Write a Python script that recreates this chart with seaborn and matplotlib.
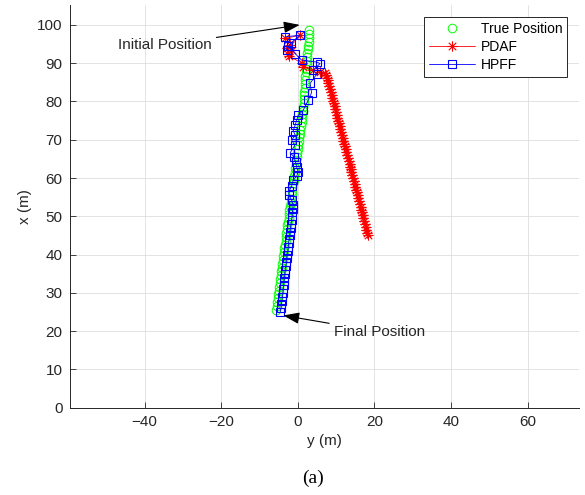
import matplotlib
matplotlib.use("Agg")
import matplotlib.pyplot as plt
from matplotlib.path import Path
from matplotlib.lines import Line2D
import seaborn as sns

# ---------------- data (horizontal = y (m), vertical = x (m)) ----------------
true_y = [3.0, 2.9, 2.8, 2.8, 2.7, 2.6, 2.5, 2.4, 2.4, 2.3, 2.2, 2.1, 2.0, 2.0,
          1.9, 1.8, 1.7, 1.6, 1.6, 1.5, 1.4, 1.3, 1.2, 1.1, 1.0, 0.8, 0.7, 0.6,
          0.4, 0.3, 0.1, 0.0, -0.1, -0.3, -0.4, -0.5, -0.7, -0.8, -0.9, -1.1,
          -1.2, -1.4, -1.5, -1.6, -1.8, -1.9, -2.0, -2.2, -2.3, -2.4, -2.6,
          -2.7, -2.8, -3.0, -3.1, -3.2, -3.4, -3.5, -3.6, -3.8, -3.9, -4.0,
          -4.2, -4.3, -4.5, -4.6, -4.7, -4.9, -5.0, -5.1, -5.3, -5.4, -5.5, -5.7]
true_x = [98.6, 97.6, 96.6, 95.6, 94.6, 93.6, 92.6, 91.6, 90.6, 89.6, 88.6,
          87.6, 86.6, 85.6, 84.6, 83.6, 82.6, 81.6, 80.6, 79.6, 78.6, 77.6,
          76.6, 75.6, 74.6, 73.6, 72.6, 71.6, 70.6, 69.6, 68.6, 67.6, 66.6,
          65.6, 64.6, 63.6, 62.6, 61.6, 60.6, 59.6, 58.6, 57.6, 56.6, 55.6,
          54.6, 53.6, 52.6, 51.6, 50.6, 49.6, 48.6, 47.6, 46.6, 45.6, 44.6,
          43.6, 42.6, 41.6, 40.6, 39.6, 38.6, 37.6, 36.6, 35.6, 34.6, 33.6,
          32.6, 31.6, 30.6, 29.6, 28.6, 27.6, 26.6, 25.6]

pdaf_y = [-3.3, 0.6, -2.0, -2.8, -1.5, -2.5, -2.2, 1.1, 1.4, 4.0, 5.8, 7.1,
          7.4, 7.6, 7.8, 8.0, 8.2, 8.4, 8.6, 8.8, 9.0, 9.2, 9.4, 9.6, 9.8,
          10.0, 10.1, 10.3, 10.5, 10.7, 10.9, 11.1, 11.3, 11.5, 11.7, 11.9,
          12.1, 12.3, 12.5, 12.7, 12.9, 13.1, 13.3, 13.5, 13.6, 13.8, 14.0,
          14.2, 14.4, 14.6, 14.8, 15.0, 15.2, 15.4, 15.6, 15.8, 16.0, 16.2,
          16.4, 16.6, 16.7, 16.9, 17.1, 17.3, 17.5, 17.7, 17.9, 18.1, 18.3]
pdaf_x = [96.5, 97.3, 94.7, 94.0, 93.5, 92.5, 91.8, 90.0, 89.0, 88.2, 87.8,
          87.4, 87.0, 86.25, 85.5, 84.75, 84.0, 83.25, 82.5, 81.75, 81.0,
          80.25, 79.5, 78.75, 78.0, 77.25, 76.5, 75.75, 75.0, 74.25, 73.5,
          72.75, 72.0, 71.25, 70.5, 69.75, 69.0, 68.25, 67.5, 66.75, 66.0,
          65.25, 64.5, 63.75, 63.0, 62.25, 61.5, 60.75, 60.0, 59.25, 58.5,
          57.75, 57.0, 56.25, 55.5, 54.75, 54.0, 53.25, 52.5, 51.75, 51.0,
          50.25, 49.5, 48.75, 48.0, 47.25, 46.5, 45.75, 45.0]

hpff_y = [-3.3, 0.6, -1.9, -2.9, -2.5, -0.7, 1.0, 4.9, 5.8, 4.0, 4.9, 3.2,
          3.6, 2.7, 1.4, 0.1, -0.3, -0.7, -1.2, -0.7, -1.6, -0.8, -2.0, -1.0,
          -0.6, -0.3, 0.1, -0.3, -1.2, -1.6, -2.3, -2.3, -1.6,
          -1.2, -1.3, -1.4, -1.5, -1.6, -1.8, -1.9, -2.0, -2.1, -2.3, -2.4,
          -2.5, -2.6, -2.8, -2.9, -3.0, -3.1, -3.3, -3.4, -3.5, -3.6, -3.7,
          -3.8, -3.9, -4.0, -4.2, -4.3, -4.4, -4.6]
hpff_x = [96.9, 97.3, 95.2, 93.4, 94.5, 92.5, 90.8, 90.3, 89.9, 88.2, 87.1,
          84.7, 82.3, 80.3, 77.7, 76.4, 75.1, 73.8, 72.4, 71.2, 69.9, 68.5,
          66.6, 65.5, 64.2, 62.9, 61.6, 60.5, 59.5, 57.9, 56.5, 55.5, 54.2,
          53.0, 52.0, 51.0, 50.0, 49.0, 48.0, 47.0, 46.0, 45.0, 44.0, 43.0,
          42.0, 41.0, 40.0, 39.0, 38.0, 37.0, 36.0, 35.0, 34.0, 33.0, 32.0,
          31.0, 30.0, 29.0, 28.0, 27.0, 26.0, 25.1]

series_labels = ["True Position", "PDAF", "HPFF"]
x_ticks = [-40, -20, 0, 20, 40, 60]
y_ticks = [0, 10, 20, 30, 40, 50, 60, 70, 80, 90, 100]

# ---------------- style ----------------
sns.set_style("ticks")
plt.rcParams['font.family'] = ['Liberation Sans', 'DejaVu Sans']

DARK = '#262626'
GRID = '#dedede'

# MATLAB-like asterisk marker
ast = Path([(-1, 0), (1, 0), (0, -1), (0, 1),
            (-0.72, -0.72), (0.72, 0.72), (-0.72, 0.72), (0.72, -0.72)],
           [Path.MOVETO, Path.LINETO] * 4)

fig = plt.figure(figsize=(5.85, 4.95), dpi=100)
ax = fig.add_axes([69.5 / 585, 1 - 407.7 / 495, (579 - 69.5) / 585, (407.7 - 5) / 495])

sns.lineplot(x=true_y, y=true_x, sort=False, estimator=None, ax=ax,
             linestyle='none', marker='o', markersize=6.2,
             markerfacecolor='none', markeredgecolor='#00ff00',
             markeredgewidth=0.7, color='#00ff00', legend=False)
sns.lineplot(x=pdaf_y, y=pdaf_x, sort=False, estimator=None, ax=ax,
             color='#ff0000', lw=0.6, marker=ast, markersize=7.5,
             markerfacecolor='none', markeredgecolor='#ff0000',
             markeredgewidth=0.8, legend=False)
sns.lineplot(x=hpff_y, y=hpff_x, sort=False, estimator=None, ax=ax,
             color='#0000ff', lw=0.6, marker='s', markersize=6,
             markerfacecolor='none', markeredgecolor='#0000ff',
             markeredgewidth=0.8, legend=False)

ax.set_xlim(-59.6, 73.4)
ax.set_ylim(0, 105.2)
ax.set_xticks(x_ticks)
ax.set_yticks(y_ticks)
ax.grid(True, color=GRID, lw=0.6)
ax.set_axisbelow(True)
for s in ['top', 'right']:
    ax.spines[s].set_visible(False)
for s in ['left', 'bottom']:
    ax.spines[s].set_color(DARK)
    ax.spines[s].set_linewidth(0.7)
ax.tick_params(direction='in', length=4, width=0.6, color=DARK,
               labelcolor=DARK, labelsize=11, pad=5)
ax.set_xlabel("y (m)", fontsize=11, color=DARK, labelpad=4)
ax.set_ylabel("x (m)", fontsize=11, color=DARK, labelpad=4)

arrow = dict(arrowstyle='-|>,head_length=0.7,head_width=0.25', color='black',
             lw=0.8, mutation_scale=14, shrinkA=1, shrinkB=0)
ax.annotate("Initial Position", xy=(0.5, 100), xytext=(-34.7, 94.7),
            ha='center', va='center', fontsize=11, color=DARK, arrowprops=arrow)
ax.annotate("Final Position", xy=(-3.8, 24.1), xytext=(21.3, 19.8),
            ha='center', va='center', fontsize=11, color=DARK, arrowprops=arrow)

handles = [
    Line2D([], [], linestyle='none', marker='o', markersize=6.2,
           markerfacecolor='none', markeredgecolor='#00ff00', markeredgewidth=0.7),
    Line2D([], [], color='#ff0000', lw=0.6, marker=ast, markersize=7.5,
           markerfacecolor='none', markeredgecolor='#ff0000', markeredgewidth=0.8),
    Line2D([], [], color='#0000ff', lw=0.6, marker='s', markersize=6,
           markerfacecolor='none', markeredgecolor='#0000ff', markeredgewidth=0.8),
]
leg = fig.legend(handles, series_labels, loc='upper right',
                 bbox_to_anchor=(567 / 585, 1 - 17 / 495),
                 bbox_transform=fig.transFigure, fontsize=10, frameon=True,
                 fancybox=False, framealpha=1, edgecolor=DARK,
                 handlelength=3.3, handletextpad=0.4, labelspacing=0.3,
                 borderpad=0.35, borderaxespad=0)
leg.get_frame().set_linewidth(0.7)
for t in leg.get_texts():
    t.set_color('black')

fig.text(313 / 585, 1 - 478 / 495, "(a)", ha='center', va='center',
         fontsize=14, family=['Liberation Serif', 'DejaVu Serif'], color='black')

fig.savefig("out.png", dpi=100)
